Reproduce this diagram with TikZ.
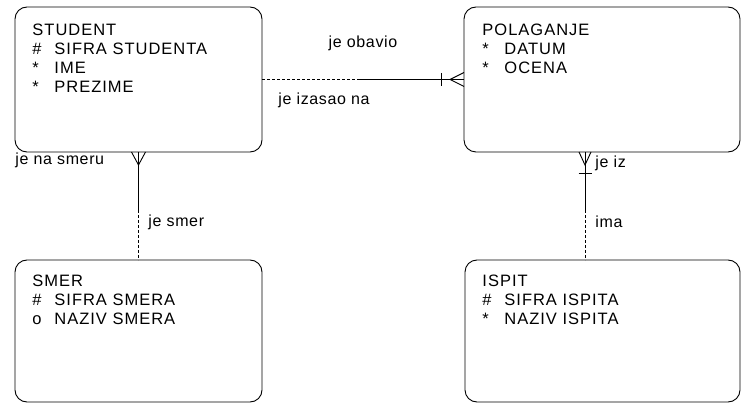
\documentclass[tikz,border=0pt]{standalone}
\usepackage{fontspec}
\setmainfont{Liberation Sans}[LetterSpace=4]
\newfontfamily\entityfont{Liberation Sans}[LetterSpace=6]
\usetikzlibrary{calc}
\newcommand{\attrmark}[1]{\makebox[22pt][l]{#1}}

\begin{document}
\begin{tikzpicture}[x=1pt, y=-1pt, line width=0.9pt,
    entity/.style={draw, rounded corners=12pt, inner sep=0pt, outer sep=0pt},
    attrs/.style={anchor=base west, inner sep=0pt, font=\entityfont\fontsize{16.5}{19}\selectfont},
    rel/.style={anchor=base west, inner sep=0pt, font=\fontsize{16}{19}\selectfont},
    opt/.style={dash pattern=on 3pt off 2pt}]
    \useasboundingbox (0,0) rectangle (741,403);

    % 1. entiteti
    \node[entity, minimum width=247pt, minimum height=145pt] (student) at (138.5,79.5) {};
    \node[entity, minimum width=276pt, minimum height=145pt] (polaganje) at (602,79.5) {};
    \node[entity, minimum width=247pt, minimum height=142pt] (smer) at (138.5,331) {};
    \node[entity, minimum width=275pt, minimum height=142pt] (ispit) at (602.5,331) {};

    % 2. atributi
    \node[attrs] (student-txt) at ($(student.north west)+(17,29)$)
        {\begin{tabular}[t]{@{}l@{}}STUDENT\\\attrmark{\#}SIFRA STUDENTA\\\attrmark{*}IME\\\attrmark{*}PREZIME\end{tabular}};
    \node[attrs] (polaganje-txt) at ($(polaganje.north west)+(18,29)$)
        {\begin{tabular}[t]{@{}l@{}}POLAGANJE\\\attrmark{*}DATUM\\\attrmark{*}OCENA\end{tabular}};
    \node[attrs] (smer-txt) at ($(smer.north west)+(17,27)$)
        {\begin{tabular}[t]{@{}l@{}}SMER\\\attrmark{\#}SIFRA SMERA\\\attrmark{o}NAZIV SMERA\end{tabular}};
    \node[attrs] (ispit-txt) at ($(ispit.north west)+(17,27)$)
        {\begin{tabular}[t]{@{}l@{}}ISPIT\\\attrmark{\#}SIFRA ISPITA\\\attrmark{*}NAZIV ISPITA\end{tabular}};

    % 3. STUDENT -- POLAGANJE
    \coordinate (m1) at (360,79.5);
    \draw[opt] (student.east) -- (m1);
    \draw (m1) -- (polaganje.west);
    \draw ($(polaganje.west)+(0,-7)$) -- ($(polaganje.west)+(-14,0)$) -- ($(polaganje.west)+(0,7)$);
    \draw ($(polaganje.west)+(-23,-6.5)$) -- ($(polaganje.west)+(-23,6.5)$);
    \node[rel, anchor=base] (obavio) at (363,48) {je obavio};
    \node[rel] (izasao) at (278,105) {je izasao na};

    % 4. STUDENT -- SMER
    \coordinate (m2) at (138.5,210);
    \draw (student.south) -- (m2);
    \draw[opt] (m2) -- (smer.north);
    \draw ($(student.south)+(-7,0)$) -- ($(student.south)+(0,13)$) -- ($(student.south)+(7,0)$);
    \node[rel] (nasmeru) at (15,165) {je na smeru};
    \node[rel] (jesmer) at (148,227) {je smer};

    % 5. POLAGANJE -- ISPIT
    \coordinate (p3) at ([xshift=-17pt]polaganje.south);
    \coordinate (i3) at ([xshift=-17.5pt]ispit.north);
    \coordinate (m3) at (585,210);
    \draw (p3) -- (m3);
    \draw[opt] (m3) -- (i3);
    \draw ($(p3)+(-6,0)$) -- ($(p3)+(0,13)$) -- ($(p3)+(6,0)$);
    \draw ($(p3)+(-6.5,21)$) -- ($(p3)+(6.5,21)$);
    \node[rel] (jeiz) at (595,168) {je iz};
    \node[rel] (ima) at (595,228) {ima};
\end{tikzpicture}
\end{document}
